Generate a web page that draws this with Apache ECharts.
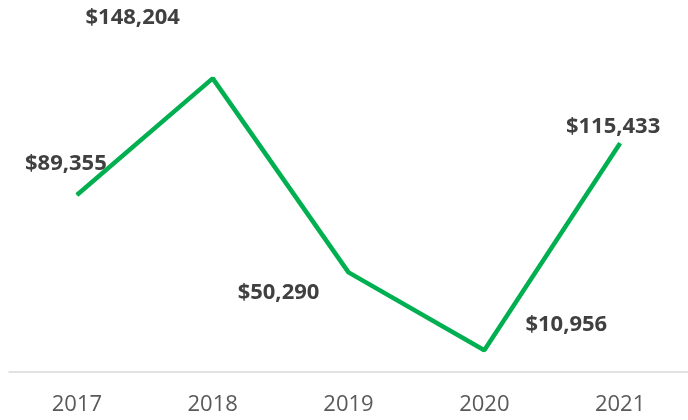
<!DOCTYPE html>
<html>
<head>
<meta charset="utf-8">
<script src="https://cdn.jsdelivr.net/npm/echarts@6/dist/echarts.min.js"></script>
<style>
  html, body { margin: 0; padding: 0; background: #fff; }
  #main { width: 688px; height: 420px; }
</style>
</head>
<body>
<div id="main"></div>
<script>
// data
var years = ['2017', '2018', '2019', '2020', '2021'];
var revenue = [89355, 148204, 50290, 10956, 115433];

// where each value label sits relative to its point (px)
var labelShift = [[-11, -31], [-80, -61], [-70, 20], [82, -26], [-7, -17]];

var chartDom = document.getElementById('main');
var myChart = echarts.init(chartDom);

var option = {
    animation: false,
    grid: { left: 9, right: -3, top: 55, bottom: 48 },
    xAxis: {
        type: 'category',
        data: years,
        boundaryGap: true,
        axisLine: { lineStyle: { color: '#d9d9d9', width: 1.5 } },
        axisTick: { show: false },
        axisLabel: {
            color: '#595959',
            fontFamily: 'Open Sans',
            fontSize: 22,
            margin: 22
        }
    },
    yAxis: {
        type: 'value',
        min: 0,
        max: 160000,
        show: false
    },
    series: [{
        type: 'line',
        data: revenue.map(function (v, i) {
            return {
                value: v,
                label: { offset: labelShift[i] }
            };
        }),
        symbol: 'circle',
        symbolSize: 1,
        showSymbol: true,
        itemStyle: { color: '#00b050' },
        lineStyle: { color: '#00b050', width: 4.5 },
        label: {
            show: true,
            position: 'inside',
            align: 'center',
            verticalAlign: 'middle',
            color: '#404040',
            fontFamily: 'Open Sans',
            fontWeight: 'bold',
            fontSize: 22,
            formatter: function (p) {
                return '$' + p.value.toLocaleString('en-US');
            }
        }
    }]
};

myChart.setOption(option);
</script>
</body>
</html>
